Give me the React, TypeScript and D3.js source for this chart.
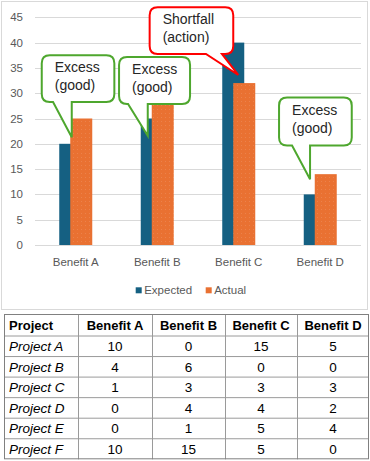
import React, { useEffect, useRef } from 'react';
import * as d3 from 'd3';

const categories = ['Benefit A', 'Benefit B', 'Benefit C', 'Benefit D'];
const expected = [20, 25, 40, 10];
const actual = [25, 29, 32, 14];
const yTicks = [0, 5, 10, 15, 20, 25, 30, 35, 40, 45];

const projects = ['Project A', 'Project B', 'Project C', 'Project D', 'Project E', 'Project F'];
const benefitA = [10, 4, 1, 0, 0, 10];
const benefitB = [0, 6, 3, 4, 1, 15];
const benefitC = [15, 0, 3, 4, 5, 5];
const benefitD = [5, 0, 3, 2, 4, 0];

// callouts: category, value the pointer reaches, and box layout around it
const callouts = [
  { cat: 'Benefit A', tipValue: 21.3, dx: -4, lines: ['Excess', '(good)'], color: '#4EA72E', box: [-30, -82, 72.6, 46.7], base: [-18.7, 0] },
  { cat: 'Benefit B', tipValue: 21.6, dx: -9.5, lines: ['Excess', '(good)'], color: '#4EA72E', box: [-28.7, -78.7, 71, 47], base: [-19.7, 0] },
  { cat: 'Benefit C', tipValue: 33.6, dx: -0.5, lines: ['Shortfall', '(action)'], color: '#FF0000', box: [-88.6, -67.7, 83.6, 46.7], base: [-32.3, -16.3] },
  { cat: 'Benefit D', tipValue: 13, dx: -10.2, lines: ['Excess', '(good)'], color: '#4EA72E', box: [-31, -81.6, 72.7, 48], base: [-18, 0] },
];

const W = 370;
const H = 461;

const App = () => {
  const svgRef = useRef<SVGSVGElement>(null);

  useEffect(() => {
    const svg = d3.select(svgRef.current);
    svg.selectAll('*').remove();
    svg.attr('width', W).attr('height', H);

    const font = '"Liberation Sans", Arial, sans-serif';

    svg.append('rect').attr('width', W).attr('height', H).attr('fill', '#fff');

    // chart frame
    svg.append('rect')
      .attr('x', 1.5).attr('y', 1.5)
      .attr('width', 366).attr('height', 308)
      .attr('fill', '#fff').attr('stroke', '#d9d9d9');

    const x = d3.scaleBand().domain(categories).range([35, 361]);
    const y = d3.scaleLinear().domain([0, 45]).range([245, 17.3]);
    const barW = 22;
    const off = 5.5;

    // pattern for actual bars
    const defs = svg.append('defs');
    const pat = defs.append('pattern')
      .attr('id', 'dots').attr('width', 4).attr('height', 4)
      .attr('patternUnits', 'userSpaceOnUse');
    pat.append('rect').attr('width', 4).attr('height', 4).attr('fill', '#E97132');
    pat.append('rect').attr('x', 1).attr('y', 1).attr('width', 1).attr('height', 1)
      .attr('fill', '#fff').attr('opacity', 0.12);

    // gridlines
    svg.append('g')
      .selectAll('line')
      .data(yTicks)
      .join('line')
      .attr('x1', 35).attr('x2', 361)
      .attr('y1', d => Math.round(y(d)) + 0.5).attr('y2', d => Math.round(y(d)) + 0.5)
      .attr('stroke', '#d9d9d9');

    svg.append('g')
      .selectAll('text')
      .data(yTicks)
      .join('text')
      .attr('x', 23).attr('y', d => y(d) + 4)
      .attr('text-anchor', 'end')
      .style('font-family', font).style('font-size', '11.5px').style('fill', '#595959')
      .text(d => d);

    const cx = (c: string) => (x(c) as number) + x.bandwidth() / 2;

    // bars
    svg.append('g')
      .selectAll('rect')
      .data(categories)
      .join('rect')
      .attr('x', (c) => cx(c) - off - barW / 2)
      .attr('y', (c, i) => y(expected[i]))
      .attr('width', barW)
      .attr('height', (c, i) => y(0) - y(expected[i]))
      .attr('fill', '#156082');

    svg.append('g')
      .selectAll('rect')
      .data(categories)
      .join('rect')
      .attr('x', (c) => cx(c) + off - barW / 2)
      .attr('y', (c, i) => y(actual[i]))
      .attr('width', barW)
      .attr('height', (c, i) => y(0) - y(actual[i]))
      .attr('fill', 'url(#dots)');

    // category labels
    svg.append('g')
      .selectAll('text')
      .data(categories)
      .join('text')
      .attr('x', c => cx(c)).attr('y', 266)
      .attr('text-anchor', 'middle')
      .style('font-family', font).style('font-size', '11.5px').style('fill', '#595959')
      .text(c => c);

    // legend
    const legend = [
      { name: 'Expected', color: '#156082', x: 135.7 },
      { name: 'Actual', color: '#E97132', x: 205.7 },
    ];
    const lg = svg.append('g').selectAll('g').data(legend).join('g')
      .attr('transform', d => `translate(${d.x},287.3)`);
    lg.append('rect').attr('width', 6).attr('height', 6).attr('fill', d => d.color);
    lg.append('text').attr('x', 8.5).attr('y', 7)
      .style('font-family', font).style('font-size', '11.5px').style('fill', '#595959')
      .text(d => d.name);

    // callouts
    callouts.forEach(co => {
      const tx = cx(co.cat) + co.dx;
      const ty = y(co.tipValue);
      const [bx0, by0, w, h] = co.box;
      const bx = tx + bx0;
      const by = ty + by0;
      const r = 8;
      const b1 = tx + co.base[0];
      const b2 = tx + co.base[1];
      const p = d3.path();
      p.moveTo(bx + r, by);
      p.lineTo(bx + w - r, by);
      p.quadraticCurveTo(bx + w, by, bx + w, by + r);
      p.lineTo(bx + w, by + h - r);
      p.quadraticCurveTo(bx + w, by + h, bx + w - r, by + h);
      p.lineTo(b2, by + h);
      p.lineTo(tx, ty);
      p.lineTo(b1, by + h);
      p.lineTo(bx + r, by + h);
      p.quadraticCurveTo(bx, by + h, bx, by + h - r);
      p.lineTo(bx, by + r);
      p.quadraticCurveTo(bx, by, bx + r, by);
      p.closePath();
      svg.append('path')
        .attr('d', p.toString())
        .attr('fill', '#fff')
        .attr('stroke', co.color)
        .attr('stroke-width', 2)
        .attr('stroke-linejoin', 'miter');
      co.lines.forEach((ln, i) => {
        svg.append('text')
          .attr('x', bx + 13).attr('y', by + 17 + i * 18)
          .style('font-family', font).style('font-size', '14px').style('fill', '#262626')
          .text(ln);
      });
    });

    // table
    const colX = [4, 78, 152, 225, 297, 369];
    const headers = ['Project', ...categories];
    const top = 314;
    const headH = 22;
    const rowH = 20.55;
    const rows = projects.map((p, i) => [p, benefitA[i], benefitB[i], benefitC[i], benefitD[i]]);
    const tbl = svg.append('g');
    const bottom = top + headH + rowH * rows.length;

    headers.forEach((h, j) => {
      tbl.append('text')
        .attr('x', j === 0 ? colX[0] + 5 : (colX[j] + colX[j + 1]) / 2)
        .attr('y', top + headH - 6.5)
        .attr('text-anchor', j === 0 ? 'start' : 'middle')
        .style('font-family', font).style('font-size', '13px').style('font-weight', 'bold').style('fill', '#000')
        .text(h);
    });
    rows.forEach((row, i) => {
      const ry = top + headH + rowH * (i + 1) - 5.5;
      row.forEach((v, j) => {
        tbl.append('text')
          .attr('x', j === 0 ? colX[0] + 5 : (colX[j] + colX[j + 1]) / 2)
          .attr('y', ry)
          .attr('text-anchor', j === 0 ? 'start' : 'middle')
          .style('font-family', font).style('font-size', '13.5px')
          .style('font-style', j === 0 ? 'italic' : 'normal').style('fill', '#000')
          .text(v);
      });
    });
    // grid lines
    const hLines = [top + headH, ...rows.map((r, i) => top + headH + rowH * (i + 1))].slice(0, -1);
    tbl.selectAll('line.h').data(hLines).join('line').attr('class', 'h')
      .attr('x1', colX[0]).attr('x2', colX[5])
      .attr('y1', d => d).attr('y2', d => d)
      .attr('stroke', '#9a9a9a').attr('stroke-width', 1);
    tbl.selectAll('line.v').data(colX.slice(1, -1)).join('line').attr('class', 'v')
      .attr('x1', d => d + 0.5).attr('x2', d => d + 0.5)
      .attr('y1', top).attr('y2', bottom)
      .attr('stroke', '#9a9a9a').attr('stroke-width', 1);
    tbl.append('rect')
      .attr('x', colX[0] + 0.5).attr('y', top + 0.5)
      .attr('width', colX[5] - colX[0] - 1).attr('height', bottom - top - 1)
      .attr('fill', 'none').attr('stroke', '#808080');
  }, []);

  return (
    <svg ref={svgRef} style={{ position: 'absolute', left: 0, top: 0, display: 'block' }}></svg>
  );
};

export default App;
